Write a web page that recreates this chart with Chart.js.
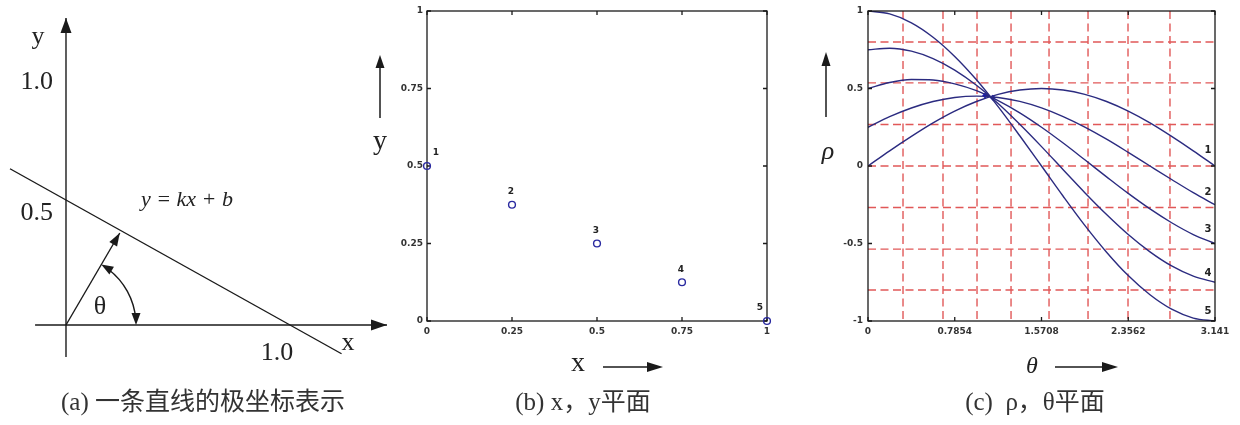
<!DOCTYPE html>
<html><head><meta charset="utf-8">
<script src="https://cdn.jsdelivr.net/npm/chart.js@4.4.1/dist/chart.umd.min.js"></script>
<style>
html,body{margin:0;padding:0;background:#fff;}
#wrap{position:relative;width:1240px;height:425px;overflow:hidden;background:#fff;}
.pane{position:absolute;top:0;height:425px;}
.cap{position:absolute;top:381px;font-family:"Liberation Serif","Noto Sans CJK SC",serif;font-size:25px;color:#333;white-space:nowrap;transform:translateX(-50%);}
</style></head>
<body><div id="wrap">
<div class="pane" style="left:0;width:400px"><canvas id="ca"></canvas></div>
<div class="pane" style="left:360px;width:460px"><canvas id="cb"></canvas></div>
<div class="pane" style="left:800px;width:440px"><canvas id="cc"></canvas></div>
<div class="cap" style="left:203px">(a) 一条直线的极坐标表示</div>
<div class="cap" style="left:583px">(b) x，y平面</div>
<div class="cap" style="left:1035px">(c) &nbsp;ρ，θ平面</div>
</div>
<script>
// ---------- Panel (a): line y = kx + b ----------
const aLineX = [-0.25, 1.23];
const aLineY = [0.625, -0.115];
const aXAxisX = [-0.138, 1.433];
const aYAxisY = [-0.128, 1.228];
const aRadialX = [0, 0.24];
const aRadialY = [0, 0.368];
const aTextLabels = ['y', '1.0', '0.5', 'θ', '1.0', 'x'];
const aTextX = [-0.125, -0.13, -0.13, 0.152, 0.942, 1.259];
const aTextY = [1.152, 0.972, 0.448, 0.072, -0.112, -0.072];
const aEquation = 'y = kx + b';
const aEqX = 0.54, aEqY = 0.5;

// ---------- Panel (b): x,y plane points ----------
const bPointLabels = ['1', '2', '3', '4', '5'];
const bPointX = [0, 0.25, 0.5, 0.75, 1];
const bPointY = [0.5, 0.375, 0.25, 0.125, 0];
const bTicks = [0, 0.25, 0.5, 0.75, 1];
const bTickLabels = ['0', '0.25', '0.5', '0.75', '1'];

// ---------- Panel (c): rho-theta curves ----------
const theta = [0, 0.196, 0.393, 0.589, 0.785, 0.982, 1.178, 1.374, 1.571, 1.767, 1.963, 2.160, 2.356, 2.553, 2.749, 2.945, 3.1416];
const rho1 = [0, 0.098, 0.191, 0.278, 0.354, 0.416, 0.462, 0.490, 0.5, 0.490, 0.462, 0.416, 0.354, 0.278, 0.191, 0.098, 0];
const rho2 = [0.25, 0.318, 0.374, 0.416, 0.442, 0.451, 0.442, 0.417, 0.375, 0.319, 0.251, 0.173, 0.088, 0.000, -0.087, -0.172, -0.25];
const rho3 = [0.5, 0.539, 0.558, 0.555, 0.530, 0.486, 0.422, 0.343, 0.25, 0.148, 0.040, -0.070, -0.177, -0.277, -0.366, -0.442, -0.5];
const rho4 = [0.75, 0.760, 0.741, 0.693, 0.619, 0.521, 0.403, 0.269, 0.125, -0.024, -0.172, -0.313, -0.442, -0.554, -0.645, -0.711, -0.75];
const rho5 = [1, 0.981, 0.924, 0.831, 0.707, 0.556, 0.383, 0.195, 0, -0.195, -0.383, -0.556, -0.707, -0.831, -0.924, -0.981, -1];
const cCurveLabels = ['1', '2', '3', '4', '5'];
const cCurveLabelTheta = 3.078;
const cCurveLabelRho = [0.10, -0.17, -0.41, -0.69, -0.94];
const cXTicks = [0, 0.7854, 1.5708, 2.3562, 3.1416];
const cXTickLabels = ['0', '0.7854', '1.5708', '2.3562', '3.141'];
const cYTicks = [-1, -0.5, 0, 0.5, 1];
const cYTickLabels = ['-1', '-0.5', '0', '0.5', '1'];
const cGridTheta = [0.317, 0.679, 0.987, 1.295, 1.639, 1.992, 2.354, 2.734];
const cGridRho = [-0.80, -0.536, -0.268, 0, 0.268, 0.536, 0.80];
const cCrossTheta = [1.06, 1.13];
const cCrossRho = [0.455, 0.44];

// ---------- helpers ----------
const INK = '#1a1a1a';
const NAVY = '#2b2b80';
const SERIF = '"Liberation Serif", "DejaVu Serif", serif';
const TICKFONT = 'bold 9px "DejaVu Sans"';
function arrowHead(ctx, x, y, ang, len, w) {
  ctx.save(); ctx.translate(x, y); ctx.rotate(ang);
  ctx.beginPath(); ctx.moveTo(0, 0); ctx.lineTo(-len, -w / 2); ctx.lineTo(-len, w / 2); ctx.closePath();
  ctx.fill(); ctx.restore();
}
function pts(xs, ys) { return xs.map((x, i) => ({ x: x, y: ys[i] })); }
function frameAndTicks(chart, xt, yt) {
  const ctx = chart.ctx, a = chart.chartArea, xs = chart.scales.x, ys = chart.scales.y;
  ctx.save(); ctx.strokeStyle = INK; ctx.lineWidth = 1.3;
  ctx.strokeRect(a.left, a.top, a.right - a.left, a.bottom - a.top);
  ctx.beginPath();
  xt.forEach(v => { const p = xs.getPixelForValue(v);
    ctx.moveTo(p, a.bottom); ctx.lineTo(p, a.bottom - 4); ctx.moveTo(p, a.top); ctx.lineTo(p, a.top + 4); });
  yt.forEach(v => { const p = ys.getPixelForValue(v);
    ctx.moveTo(a.left, p); ctx.lineTo(a.left + 4, p); ctx.moveTo(a.right, p); ctx.lineTo(a.right - 4, p); });
  ctx.stroke(); ctx.restore();
}
function fixedTicks(values, labels) {
  return {
    afterBuildTicks: s => { s.ticks = values.map(v => ({ value: v })); },
    ticks: { autoSkip: false, maxRotation: 0, minRotation: 0, color: '#333', font: { family: 'DejaVu Sans', size: 9, weight: 'bold' },
      callback: (v, i) => labels[i] }
  };
}

// ---------- Panel (a) chart ----------
const lineDs = (data) => ({ type: 'line', data: data, borderColor: INK, borderWidth: 1.4, pointRadius: 0, fill: false, tension: 0 });
new Chart(document.getElementById('ca'), {
  type: 'line',
  data: { datasets: [
    lineDs(pts(aLineX, aLineY)),
    lineDs(pts(aXAxisX, [0, 0])),
    lineDs(pts([0, 0], aYAxisY)),
    lineDs(pts(aRadialX, aRadialY))
  ] },
  options: {
    responsive: true, maintainAspectRatio: false, animation: false,
    layout: { padding: 0 },
    plugins: { legend: { display: false }, tooltip: { enabled: false } },
    scales: {
      x: { type: 'linear', display: false, min: -0.2946, max: 1.491 },
      y: { type: 'linear', display: false, min: -0.4, max: 1.3 }
    }
  },
  plugins: [{
    id: 'aDeco',
    afterDatasetsDraw(chart) {
      const ctx = chart.ctx, xs = chart.scales.x, ys = chart.scales.y;
      const P = (x, y) => [xs.getPixelForValue(x), ys.getPixelForValue(y)];
      ctx.save(); ctx.fillStyle = INK; ctx.strokeStyle = INK; ctx.lineWidth = 1.4;
      const [yx, yt] = P(0, aYAxisY[1]); arrowHead(ctx, yx, yt, -Math.PI / 2, 15, 11);
      const [xt, xy] = P(aXAxisX[1], 0); arrowHead(ctx, xt, xy, 0, 16, 11);
      const [ox, oy] = P(0, 0); const [rx, ry] = P(aRadialX[1], aRadialY[1]);
      arrowHead(ctx, rx, ry, Math.atan2(ry - oy, rx - ox), 13, 9);
      const r = xs.getPixelForValue(0.3125) - ox;
      const phi = Math.atan2(oy - ry, rx - ox);
      ctx.beginPath(); ctx.arc(ox, oy, r, -phi + 0.12, -0.08); ctx.stroke();
      arrowHead(ctx, ox + r * Math.cos(phi), oy - r * Math.sin(phi), Math.atan2(-Math.cos(phi), -Math.sin(phi)), 12, 9);
      arrowHead(ctx, ox + r, oy, Math.PI / 2, 12, 9);
      ctx.fillStyle = '#222'; ctx.textAlign = 'center'; ctx.textBaseline = 'middle';
      ctx.font = '26px ' + SERIF;
      aTextLabels.forEach((t, i) => { const [tx, ty] = P(aTextX[i], aTextY[i]); ctx.fillText(t, tx, ty); });
      ctx.font = 'italic 22px ' + SERIF;
      const [ex, ey] = P(aEqX, aEqY); ctx.fillText(aEquation, ex, ey);
      ctx.restore();
    }
  }]
});

// ---------- Panel (b) chart ----------
const bX = fixedTicks(bTicks, bTickLabels), bY = fixedTicks(bTicks, bTickLabels);
bX.ticks.padding = 5; bY.ticks.padding = 4;
new Chart(document.getElementById('cb'), {
  type: 'scatter',
  data: { datasets: [{
    data: pts(bPointX, bPointY), showLine: false, clip: false,
    pointStyle: 'circle', pointRadius: 3.4, pointBorderWidth: 1.4,
    pointBorderColor: '#2a2aa0', pointBackgroundColor: 'rgba(0,0,0,0)'
  }] },
  options: {
    responsive: true, maintainAspectRatio: false, animation: false,
    layout: { padding: { left: 40, right: 53, top: 11, bottom: 84 } },
    plugins: { legend: { display: false }, tooltip: { enabled: false } },
    scales: {
      x: Object.assign({ type: 'linear', min: 0, max: 1, grid: { display: false, drawTicks: false }, border: { display: false },
        afterFit: s => { s.height = 20; } }, bX),
      y: Object.assign({ type: 'linear', min: 0, max: 1, grid: { display: false, drawTicks: false }, border: { display: false },
        afterFit: s => { s.width = 27; } }, bY)
    }
  },
  plugins: [{
    id: 'bDeco',
    beforeDatasetsDraw(chart) { frameAndTicks(chart, bTicks, bTicks); },
    afterDatasetsDraw(chart) {
      const ctx = chart.ctx, a = chart.chartArea, xs = chart.scales.x, ys = chart.scales.y;
      ctx.save(); ctx.fillStyle = '#222'; ctx.font = TICKFONT; ctx.textAlign = 'center'; ctx.textBaseline = 'middle';
      bPointLabels.forEach((t, i) => {
        const dx = i === 0 ? 9 : (i === bPointLabels.length - 1 ? -7 : -1);
        ctx.fillText(t, xs.getPixelForValue(bPointX[i]) + dx, ys.getPixelForValue(bPointY[i]) - 13);
      });
      ctx.fillStyle = INK; ctx.strokeStyle = INK; ctx.lineWidth = 1.5;
      // y title + arrow
      const yx = a.left - 47;
      ctx.beginPath(); ctx.moveTo(yx, a.top + 107); ctx.lineTo(yx, a.top + 50); ctx.stroke();
      arrowHead(ctx, yx, a.top + 44, -Math.PI / 2, 13, 9);
      ctx.font = '28px ' + SERIF; ctx.fillStyle = '#222';
      ctx.fillText('y', yx, a.top + 131);
      // x title + arrow
      ctx.fillText('x', a.left + 151, a.bottom + 43);
      ctx.fillStyle = INK;
      ctx.beginPath(); ctx.moveTo(a.left + 176, a.bottom + 46); ctx.lineTo(a.left + 226, a.bottom + 46); ctx.stroke();
      arrowHead(ctx, a.left + 236, a.bottom + 46, 0, 16, 10);
      ctx.restore();
    }
  }]
});

// ---------- Panel (c) chart ----------
const cX = fixedTicks(cXTicks, cXTickLabels), cY = fixedTicks(cYTicks, cYTickLabels);
cX.ticks.padding = 5; cY.ticks.padding = 5;
const curve = (r) => ({ type: 'line', data: pts(theta, r), borderColor: NAVY, borderWidth: 1.4, pointRadius: 0, fill: false, cubicInterpolationMode: 'monotone' });
new Chart(document.getElementById('cc'), {
  type: 'line',
  data: { datasets: [
    curve(rho1), curve(rho2), curve(rho3), curve(rho4), curve(rho5),
    { type: 'scatter', data: pts(cCrossTheta, cCrossRho), pointStyle: 'rectRot', pointRadius: 3, pointBorderWidth: 0,
      pointBackgroundColor: '#1515c8', showLine: false }
  ] },
  options: {
    responsive: true, maintainAspectRatio: false, animation: false,
    layout: { padding: { left: 40, right: 25, top: 11, bottom: 84 } },
    plugins: { legend: { display: false }, tooltip: { enabled: false } },
    scales: {
      x: Object.assign({ type: 'linear', min: 0, max: 3.1416, grid: { display: false, drawTicks: false }, border: { display: false },
        afterFit: s => { s.height = 20; } }, cX),
      y: Object.assign({ type: 'linear', min: -1, max: 1, grid: { display: false, drawTicks: false }, border: { display: false },
        afterFit: s => { s.width = 28; } }, cY)
    }
  },
  plugins: [{
    id: 'cDeco',
    beforeDatasetsDraw(chart) {
      const ctx = chart.ctx, a = chart.chartArea, xs = chart.scales.x, ys = chart.scales.y;
      ctx.save(); ctx.strokeStyle = 'rgba(222,70,70,0.9)'; ctx.lineWidth = 1.4; ctx.setLineDash([8, 4.5]);
      ctx.beginPath();
      cGridTheta.forEach(v => { const p = xs.getPixelForValue(v); ctx.moveTo(p, a.top); ctx.lineTo(p, a.bottom); });
      cGridRho.forEach(v => { const p = ys.getPixelForValue(v); ctx.moveTo(a.left, p); ctx.lineTo(a.right, p); });
      ctx.stroke(); ctx.restore();
    },
    afterDatasetsDraw(chart) {
      frameAndTicks(chart, cXTicks, cYTicks);
      const ctx = chart.ctx, a = chart.chartArea, xs = chart.scales.x, ys = chart.scales.y;
      ctx.save(); ctx.fillStyle = '#222'; ctx.font = 'bold 10px "DejaVu Sans"'; ctx.textAlign = 'center'; ctx.textBaseline = 'middle';
      cCurveLabels.forEach((t, i) => ctx.fillText(t, xs.getPixelForValue(cCurveLabelTheta), ys.getPixelForValue(cCurveLabelRho[i])));
      ctx.fillStyle = INK; ctx.strokeStyle = INK; ctx.lineWidth = 1.5;
      const rx = a.left - 42;
      ctx.beginPath(); ctx.moveTo(rx, a.top + 106); ctx.lineTo(rx, a.top + 52); ctx.stroke();
      arrowHead(ctx, rx, a.top + 41, -Math.PI / 2, 14, 9);
      ctx.fillStyle = '#222'; ctx.font = 'italic 26px ' + SERIF;
      ctx.fillText('ρ', a.left - 40, a.top + 141);
      ctx.font = 'italic 24px ' + SERIF;
      ctx.fillText('θ', a.left + 164, a.bottom + 46);
      ctx.fillStyle = INK;
      ctx.beginPath(); ctx.moveTo(a.left + 187, a.bottom + 46); ctx.lineTo(a.left + 240, a.bottom + 46); ctx.stroke();
      arrowHead(ctx, a.left + 250, a.bottom + 46, 0, 16, 10);
      ctx.restore();
    }
  }]
});
</script>
</body></html>
